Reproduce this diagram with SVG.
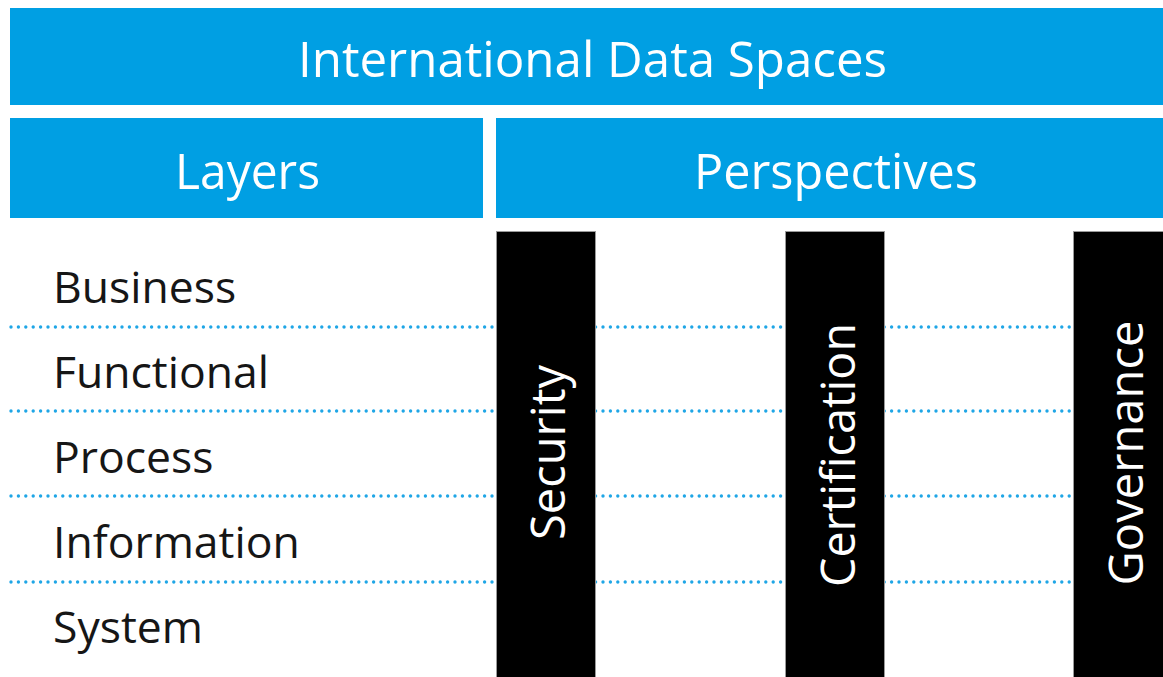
<svg xmlns="http://www.w3.org/2000/svg" width="1163" height="677" viewBox="0 0 1163 677">
<style>
.hdr{fill:#009fe3}
.ht{fill:#ffffff;font-family:"Open Sans","Noto Sans",sans-serif;font-size:49px;text-anchor:middle}
.lt{fill:#161616;font-family:"Open Sans","Noto Sans",sans-serif;font-size:44.5px}
.bar{fill:#000000;stroke:#9a9a9a;stroke-width:1}
.vt{fill:#ffffff;font-family:"Open Sans","Noto Sans",sans-serif;font-size:48px;text-anchor:middle}
.dot{stroke:#1fa6e6;stroke-width:3.4;stroke-linecap:round;stroke-dasharray:0 7.4;fill:none}
</style>
<rect width="1163" height="677" fill="#ffffff"/>
<g id="title">
<rect class="hdr" x="10" y="8" width="1160" height="97"/>
<text class="ht" x="592.5" y="77" textLength="589" lengthAdjust="spacingAndGlyphs">International Data Spaces</text>
</g>
<g id="layers">
<rect class="hdr" x="10" y="118" width="473" height="100"/>
<text class="ht" x="247.5" y="189" textLength="145" lengthAdjust="spacingAndGlyphs">Layers</text>
</g>
<g id="perspectives">
<rect class="hdr" x="496" y="118" width="680" height="100"/>
<text class="ht" x="836" y="189" textLength="284" lengthAdjust="spacingAndGlyphs">Perspectives</text>
</g>
<g id="connectors">
<line class="dot" x1="11" y1="327" x2="1074" y2="327"/>
<line class="dot" x1="11" y1="411" x2="1074" y2="411"/>
<line class="dot" x1="11" y1="496" x2="1074" y2="496"/>
<line class="dot" x1="11" y1="582" x2="1074" y2="582"/>
</g>
<g id="layer-business"><text class="lt" x="53" y="303">Business</text></g>
<g id="layer-functional"><text class="lt" x="53" y="388">Functional</text></g>
<g id="layer-process"><text class="lt" x="53" y="473">Process</text></g>
<g id="layer-information"><text class="lt" x="53" y="558">Information</text></g>
<g id="layer-system"><text class="lt" x="53" y="643">System</text></g>
<g id="security">
<rect class="bar" x="496.5" y="231.5" width="99" height="450"/>
<text class="vt" transform="translate(565,452.5) rotate(-90)" textLength="175" lengthAdjust="spacingAndGlyphs">Security</text>
</g>
<g id="certification">
<rect class="bar" x="785.5" y="231.5" width="99" height="450"/>
<text class="vt" transform="translate(855,455) rotate(-90)" textLength="264" lengthAdjust="spacingAndGlyphs">Certification</text>
</g>
<g id="governance">
<rect class="bar" x="1073.5" y="231.5" width="99" height="450"/>
<text class="vt" transform="translate(1143,453) rotate(-90)" textLength="265" lengthAdjust="spacingAndGlyphs">Governance</text>
</g>
</svg>
